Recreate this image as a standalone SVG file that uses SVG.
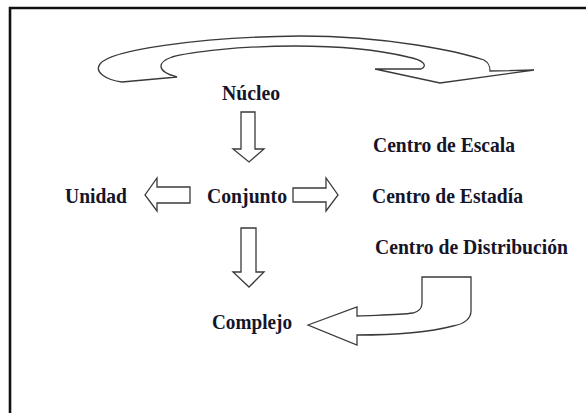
<svg xmlns="http://www.w3.org/2000/svg" width="586" height="413" viewBox="0 0 586 413">
<style>
.lbl{font-family:"Liberation Serif","Times New Roman",serif;font-weight:bold;font-size:21px;fill:#15152a}
.arr{fill:#ffffff;stroke:#3a3a3a;stroke-width:1.3;stroke-linejoin:miter}
</style>
<rect width="586" height="413" fill="#ffffff"/>
<path d="M10,413 L10,8 L586,8" fill="none" stroke="#111" stroke-width="2.6"/>
<g id="connectors">
<path class="arr" d="M122,82 C106,80 94,72 100,64 C110,50 200,37 300,36 C390,36 460,52 484,60 C489,63 490,66 490,71 L534,70 L440,83 L375,69 L421,69 C428,66 424,60 408,57 C375,49 340,46 295,46 C240,46 190,52 172,57 C158,62 155,71 177,77 Z"/>
<path class="arr" d="M241,112 L255,112 L255,149 L264,149 L249,162 L233,149 L241,149 Z"/>
<path class="arr" d="M293,188 L326,188 L326,178 L338,195 L326,211 L326,202 L293,202 Z"/>
<path class="arr" d="M190,187 L157,187 L157,178 L145,195 L157,211 L157,203 L190,203 Z"/>
<path class="arr" d="M241,228 L256,228 L256,272 L264,272 L249,287 L233,272 L241,272 Z"/>
<path class="arr" d="M308,325 L357,307 L357,316 C380,315 400,315 413,313 C420,311 422,308 422,303 L422,277 L471,277 L471,311 C471,318 465,324 453,326 C430,332 400,335 357,335 L357,345 Z"/>
</g>
<g id="nucleo"><text class="lbl" x="222" y="100" textLength="58" lengthAdjust="spacingAndGlyphs">Núcleo</text></g>
<g id="conjunto"><text class="lbl" x="207" y="203" textLength="80" lengthAdjust="spacingAndGlyphs">Conjunto</text></g>
<g id="unidad"><text class="lbl" x="65" y="203" textLength="62" lengthAdjust="spacingAndGlyphs">Unidad</text></g>
<g id="complejo"><text class="lbl" x="212" y="329" textLength="80" lengthAdjust="spacingAndGlyphs">Complejo</text></g>
<g id="centro-escala"><text class="lbl" x="373" y="152" textLength="142" lengthAdjust="spacingAndGlyphs">Centro de Escala</text></g>
<g id="centro-estadia"><text class="lbl" x="372" y="203" textLength="151" lengthAdjust="spacingAndGlyphs">Centro de Estadía</text></g>
<g id="centro-distribucion"><text class="lbl" x="375" y="254" textLength="193" lengthAdjust="spacingAndGlyphs">Centro de Distribución</text></g>
</svg>
